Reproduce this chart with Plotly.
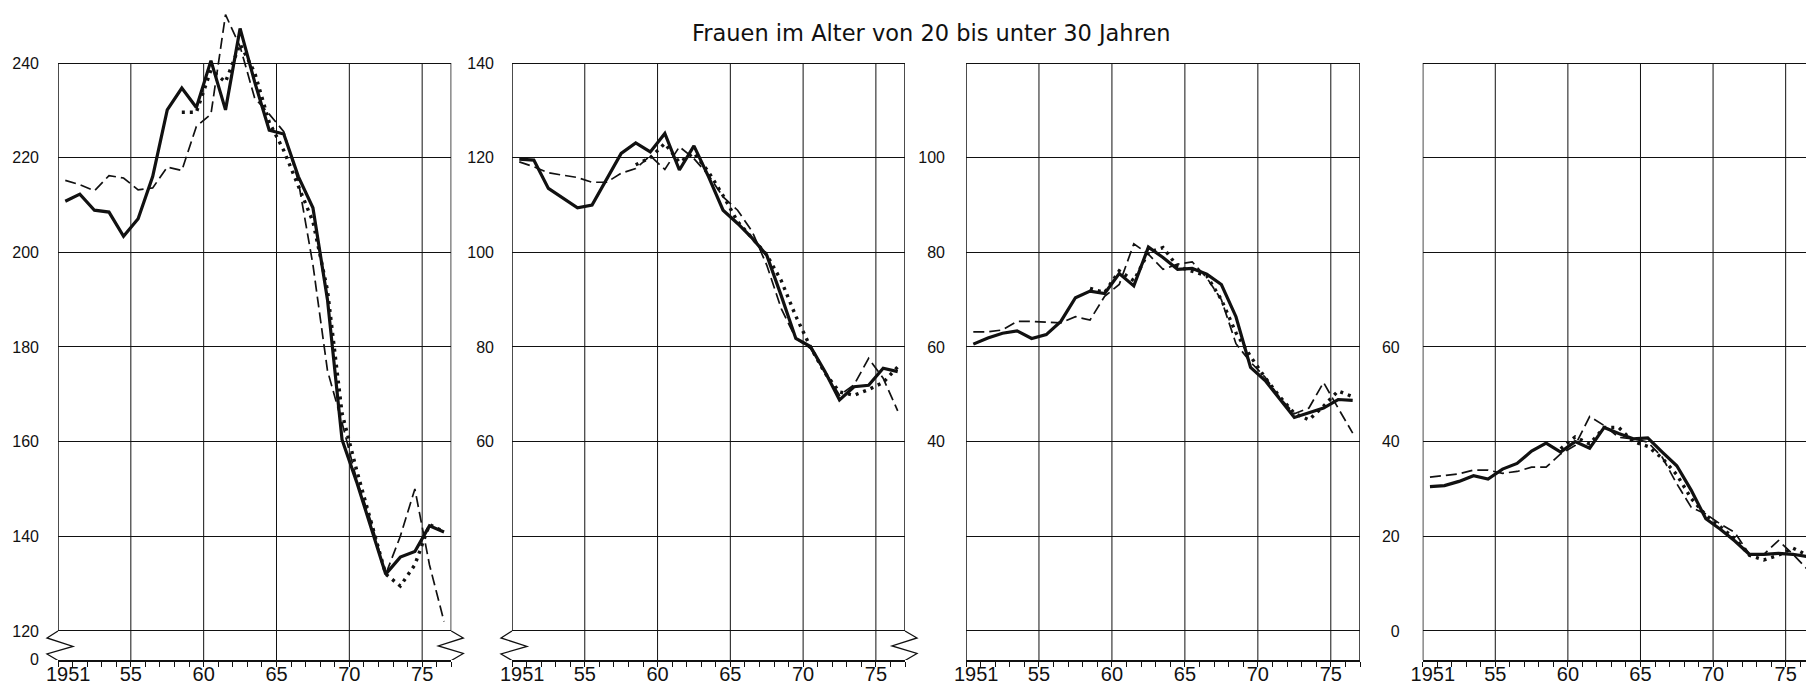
import plotly.graph_objects as go

# ---------------- data ----------------
years = list(range(1951, 1978))

p1_solid = [210.8, 212.3, 208.9, 208.5, 203.4, 207.1, 216.0, 230.1, 234.7, 230.6, 240.5, 230.1, 247.3, 236.0,
            225.8, 225.0, 216.0, 209.4, 190.0, 160.4, 151.5, 142.0, 132.0, 135.6, 136.8, 142.2, 140.9]
p1_dashed = [215.2, 214.3, 213.0, 216.2, 215.7, 213.2, 213.6, 218.0, 217.3, 226.6, 229.2, 250.2, 243.5, 232.6,
             229.2, 225.5, 215.0, 197.4, 175.0, 164.0, 152.0, 143.0, 132.0, 140.0, 150.0, 134.0, 122.0]
p1_dotted = [None] * 8 + [229.6, 229.6, 238.5, 236.0, 244.0, 238.0, 227.5, 221.5, 214.0, 206.5, 192.0, 166.0,
                          154.0, 143.0, 132.0, 129.5, 134.0, 142.5, 141.0]

p2_solid = [119.7, 119.5, 113.5, 111.5, 109.4, 110.0, 115.5, 120.9, 123.1, 121.2, 125.1, 117.4, 122.5, 116.0,
            108.9, 106.1, 103.0, 99.4, 90.8, 81.8, 80.1, 74.8, 68.8, 71.6, 71.9, 75.5, 74.8]
p2_dashed = [119.1, 118.1, 116.8, 116.3, 115.8, 114.8, 114.8, 116.7, 117.7, 120.4, 117.5, 122.3, 119.8, 116.3,
             111.7, 108.9, 104.4, 97.3, 88.1, 81.8, 79.7, 74.8, 69.8, 72.0, 77.6, 73.4, 66.5]
p2_dotted = [None] * 8 + [118.5, 120.0, 123.0, 119.0, 121.0, 117.0, 112.0, 106.5, 103.0, 99.5, 94.0, 86.5,
                          80.0, 74.5, 70.5, 69.8, 71.0, 72.5, 75.8]

p3_solid = [60.6, 61.9, 62.9, 63.4, 61.8, 62.6, 65.4, 70.4, 71.8, 71.3, 75.5, 72.9, 81.1, 78.9,
            76.4, 76.6, 75.4, 73.2, 66.4, 55.7, 52.9, 48.9, 45.1, 46.1, 47.1, 48.9, 48.7]
p3_dashed = [63.2, 63.2, 63.6, 65.4, 65.4, 65.3, 65.1, 66.4, 65.7, 70.7, 73.2, 81.8, 79.6, 76.4,
             77.5, 78.0, 74.6, 70.0, 60.7, 56.8, 53.6, 49.3, 45.9, 47.1, 52.5, 47.1, 41.8]
p3_dotted = [None] * 8 + [72.4, 71.5, 76.1, 74.0, 80.0, 81.0, 77.0, 76.0, 75.0, 70.0, 63.0, 58.0,
                          53.5, 49.5, 46.0, 44.6, 47.5, 50.7, 49.5]

p4_solid = [30.5, 30.7, 31.6, 32.8, 32.1, 34.2, 35.4, 38.0, 39.7, 37.8, 40.0, 38.6, 43.0, 41.7,
            40.6, 40.8, 37.8, 34.9, 29.7, 23.7, 21.5, 19.0, 16.2, 16.2, 16.4, 16.2, 15.7]
p4_dashed = [32.5, 32.8, 33.2, 34.0, 34.0, 33.3, 33.7, 34.6, 34.6, 37.4, 39.2, 45.3, 43.4, 40.9,
             40.6, 39.9, 36.7, 31.1, 26.1, 24.7, 22.6, 20.8, 16.2, 16.2, 19.1, 16.2, 13.0]
p4_dotted = [None] * 9 + [38.5, 41.0, 39.5, 43.0, 43.0, 40.0, 39.0, 36.5, 33.0, 28.0, 24.5, 22.0,
                          19.5, 16.0, 15.0, 16.0, 17.5, 16.0]

x_tick_vals = [1951.2, 1955.5, 1960.5, 1965.5, 1970.5, 1975.5]
x_tick_text = ["1951", "55", "60", "65", "70", "75"]
x_grid = [1955.5, 1960.5, 1965.5, 1970.5, 1975.5]

p1_yvals = [113.95, 120, 140, 160, 180, 200, 220, 240]
p1_ytext = ["0", "120", "140", "160", "180", "200", "220", "240"]
p2_yvals = [20, 40, 60, 80, 100, 120, 140]
p2_ytext = ["", "", "60", "80", "100", "120", "140"]
p3_yvals = [0, 20, 40, 60, 80, 100, 120]
p3_ytext = ["", "", "40", "60", "80", "100", ""]
p4_yvals = [0, 20, 40, 60, 80, 100, 120]
p4_ytext = ["0", "20", "40", "60", "", "", ""]

title_text = "Frauen im Alter von 20 bis unter 30 Jahren"

# ---------------- layout geometry ----------------
W, H = 1814, 685
MB = 33                     # bottom margin (plot area = 652 px high)
PH = H - MB
PX_PER_UNIT = 94.66 / 20.0  # vertical scale, identical in all panels
TOP_PX = 55                 # pixel row of the top frame line
X0, X1 = 1950.5, 1977.5

panels = [
    dict(left=50, right=443.3, top=240, yv=p1_yvals, yt=p1_ytext, brk=120, so=18,
         s=p1_solid, d=p1_dashed, o=p1_dotted),
    dict(left=504, right=897, top=140, yv=p2_yvals, yt=p2_ytext, brk=20, so=17,
         s=p2_solid, d=p2_dashed, o=p2_dotted),
    dict(left=958, right=1352, top=120, yv=p3_yvals, yt=p3_ytext, brk=None, so=20,
         s=p3_solid, d=p3_dashed, o=p3_dotted),
    dict(left=1414.7, right=1806.7, top=120, yv=p4_yvals, yt=p4_ytext, brk=None, so=22,
         s=p4_solid, d=p4_dashed, o=p4_dotted),
]

fig = go.Figure()
shapes = []
BLACK = "#111111"

for i, p in enumerate(panels, start=1):
    xa = "x" if i == 1 else f"x{i}"
    ya = "y" if i == 1 else f"y{i}"
    ymax = p["top"] + TOP_PX / PX_PER_UNIT
    ymin = p["top"] - (PH - TOP_PX) / PX_PER_UNIT

    fig.add_trace(go.Scatter(x=years, y=p["d"], mode="lines", xaxis=xa, yaxis=ya,
                             line=dict(color=BLACK, width=1.7, dash="11px,5px"), hoverinfo="skip"))
    fig.add_trace(go.Scatter(x=years, y=p["o"], mode="lines", xaxis=xa, yaxis=ya,
                             line=dict(color=BLACK, width=3.4, dash="3px,5px"), hoverinfo="skip"))
    fig.add_trace(go.Scatter(x=years, y=p["s"], mode="lines", xaxis=xa, yaxis=ya,
                             line=dict(color=BLACK, width=3.2), hoverinfo="skip"))

    dom = [p["left"] / W, p["right"] / W]
    fig.update_layout({
        ("xaxis" if i == 1 else f"xaxis{i}"): dict(
            domain=dom, range=[X0, X1], anchor=ya, showgrid=False, zeroline=False,
            automargin=False,
            showline=True, linecolor=BLACK, linewidth=1.5,
            tickmode="array", tickvals=x_tick_vals, ticktext=x_tick_text, ticks="",
            ticklabelstandoff=-5,
            tickfont=dict(family="Liberation Sans Narrow, Liberation Sans, Arial", size=20, color=BLACK),
            minor=dict(tickvals=[X0 + k for k in range(28)], ticks="outside", ticklen=5,
                       tickcolor=BLACK, tickwidth=1.2, showgrid=False),
        ),
        ("yaxis" if i == 1 else f"yaxis{i}"): dict(
            domain=[0, 1], range=[ymin, ymax], anchor=xa, showgrid=True, gridcolor=BLACK,
            gridwidth=1, zeroline=False, showline=False, automargin=False,
            tickmode="array", tickvals=p["yv"], ticktext=p["yt"], ticks="",
            ticklabelstandoff=p["so"],
            tickfont=dict(family="Liberation Sans, Arial", size=16, color=BLACK),
        ),
    })

    # vertical grid lines (stop at top frame)
    for gx in x_grid:
        shapes.append(dict(type="line", xref=xa, yref=ya, x0=gx, x1=gx, y0=ymin, y1=p["top"],
                           line=dict(color=BLACK, width=1), layer="below"))
    # frame sides
    low = p["brk"] if p["brk"] is not None else ymin
    for fx in (X0, X1):
        shapes.append(dict(type="line", xref=xa, yref=ya, x0=fx, x1=fx, y0=low, y1=p["top"],
                           line=dict(color=BLACK, width=1.5), layer="below"))
    # axis-break zigzags (x in paper units so they may extend beyond the frame)
    if p["brk"] is not None:
        def pt(xpix, dxp, dyp):
            return f"{(xpix + dxp) / W:.5f},{p['brk'] - dyp / PX_PER_UNIT:.4f}"
        left_pts = [(0, 0), (-11, 7), (15, 15.5), (-11, 23), (0, 29.5)]
        right_pts = [(0, 0), (12, 7), (-13, 15), (12, 22.5), (0, 29.5)]
        for xb, pts in ((p["left"], left_pts), (p["right"], right_pts)):
            path = "M " + " L ".join(pt(xb, a, b) for a, b in pts)
            shapes.append(dict(type="path", xref="paper", yref=ya, path=path,
                               line=dict(color=BLACK, width=1.3), layer="above"))

fig.update_layout(
    width=W, height=H,
    margin=dict(l=0, r=0, t=0, b=MB, autoexpand=False),
    paper_bgcolor="white", plot_bgcolor="white",
    showlegend=False,
    shapes=shapes,
    annotations=[dict(text=title_text, xref="paper", yref="paper", x=923 / W, y=1 - 25 / PH,
                      xanchor="center", yanchor="middle", showarrow=False,
                      font=dict(family="DejaVu Sans", size=22.5, color=BLACK))],
)

fig.write_html("out.html")
